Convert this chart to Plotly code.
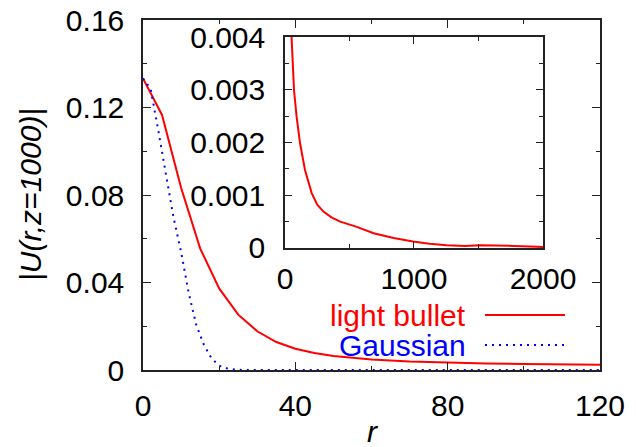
import plotly.graph_objects as go

# main panel data
r_bullet = [0, 5, 10, 15, 20, 25, 30, 35, 40, 45, 50, 60, 70, 80, 90, 100, 110, 120]
u_bullet = [0.1333, 0.1166, 0.0833, 0.0556, 0.0373, 0.0253, 0.0177, 0.0128, 0.0097,
            0.0078, 0.0064, 0.0048, 0.0039, 0.0033, 0.0030, 0.0028, 0.0026, 0.0024]

r_gauss = [0, 2, 4, 6, 8, 10, 12, 14, 16, 18, 20, 22, 24, 26, 40, 60, 80, 100, 120]
u_gauss = [0.1333, 0.1285, 0.1097, 0.0890, 0.0698, 0.0540, 0.0352, 0.0205, 0.0115,
           0.0053, 0.0020, 0.0008, 0.0002, 0.0, 0.0, 0.0, 0.0, 0.0, 0.0]

# inset data
r_inset = [40, 51, 70, 90, 117, 155, 207, 250, 298, 360, 428, 557, 687, 842, 992,
           1120, 1252, 1400, 1511, 1650, 1770, 1900, 2000]
u_inset = [0.0060, 0.0040, 0.00299, 0.00249, 0.00198, 0.00148, 0.00104, 0.00082, 0.00069,
           0.00058, 0.00050, 0.00040, 0.00028, 0.00019, 0.000125, 0.00008, 0.00005,
           0.00004, 0.00005, 0.00005, 0.00004, 0.00003, 0.00002]

main_x_ticks = [0, 40, 80, 120]
main_y_ticks = [0, 0.04, 0.08, 0.12, 0.16]
inset_x_ticks = [0, 1000, 2000]
inset_y_ticks = [0, 0.001, 0.002, 0.003, 0.004]

FONT = "Liberation Sans, Arial, sans-serif"
FS = 30
AX = "#222222"

fig = go.Figure()
fig.add_trace(go.Scatter(x=r_bullet, y=u_bullet, mode="lines",
                         line=dict(color="#ff0000", width=2), showlegend=False,
                         xaxis="x", yaxis="y"))
fig.add_trace(go.Scatter(x=r_gauss, y=u_gauss, mode="lines",
                         line=dict(color="#0000ff", width=2, dash="2px,5px"), showlegend=False,
                         xaxis="x", yaxis="y"))
fig.add_trace(go.Scatter(x=r_inset, y=u_inset, mode="lines",
                         line=dict(color="#ff0000", width=2), showlegend=False,
                         xaxis="x2", yaxis="y2", cliponaxis=True))

common = dict(showline=True, linecolor=AX, linewidth=1.5, mirror="ticks", automargin=False,
              ticks="inside", tickcolor=AX, tickwidth=1.2, showgrid=False, zeroline=False,
              ticklabeloverflow="allow",
              tickfont=dict(family=FONT, size=FS, color="black"))

fig.update_layout(
    width=636, height=447,
    margin=dict(l=143, r=36, t=20, b=77),
    paper_bgcolor="white", plot_bgcolor="white",
    font=dict(family=FONT, size=FS, color="black"),
    xaxis=dict(domain=[0, 1], range=[0, 120], tickvals=main_x_ticks, ticklen=8,
               ticklabelstandoff=8,
               minor=dict(ticks="inside", dtick=20, tick0=0, ticklen=4, tickcolor=AX),
               **common),
    yaxis=dict(domain=[0, 1], range=[0, 0.16], tickvals=main_y_ticks,
               ticktext=["0", "0.04", "0.08", "0.12", "0.16"], ticklen=8,
               ticklabelstandoff=11,
               minor=dict(ticks="inside", dtick=0.02, tick0=0, ticklen=4, tickcolor=AX),
               **common),
    xaxis2=dict(domain=[0.3107, 0.8753], range=[0, 2000], tickvals=inset_x_ticks,
                ticktext=["0", "1000", "2000"], ticklen=7, anchor="y2",
                ticklabelstandoff=3,
                minor=dict(ticks="inside", dtick=500, tick0=0, ticklen=4, tickcolor=AX),
                **common),
    yaxis2=dict(domain=[0.3486, 0.9514], range=[0, 0.004], tickvals=inset_y_ticks,
                ticktext=["0", "0.001", "0.002", "0.003", "0.004"], ticklen=7, anchor="x2",
                ticklabelstandoff=12,
                minor=dict(ticks="inside", dtick=0.0005, tick0=0, ticklen=4, tickcolor=AX),
                **common),
)

def px_to_paper_x(px):
    return (px - 143) / 457.0

def py_to_paper_y(py):
    return (370 - py) / 350.0

# axis titles
fig.add_annotation(text="<i>|U(r,z=1000)|</i>", xref="paper", yref="paper",
                   x=px_to_paper_x(30), y=py_to_paper_y(195), textangle=-90,
                   xanchor="center", yanchor="middle", showarrow=False,
                   font=dict(family=FONT, size=FS, color="black"))
fig.add_annotation(text="<i>r</i>", xref="paper", yref="paper",
                   x=px_to_paper_x(372), y=py_to_paper_y(431),
                   xanchor="center", yanchor="middle", showarrow=False,
                   font=dict(family=FONT, size=FS, color="black"))

# key (text to the left of sample lines, as in the reference)
key = [("light bullet", "#ff0000", None, 315), ("Gaussian", "#0000ff", "2px,5px", 345)]
for label, color, dash, py in key:
    fig.add_annotation(text=label, xref="paper", yref="paper",
                       x=px_to_paper_x(468), y=py_to_paper_y(py),
                       xanchor="right", yanchor="middle", showarrow=False,
                       font=dict(family=FONT, size=FS, color=color))
    fig.add_shape(type="line", xref="paper", yref="paper",
                  x0=px_to_paper_x(485), x1=px_to_paper_x(565),
                  y0=py_to_paper_y(py), y1=py_to_paper_y(py),
                  line=dict(color=color, width=2, dash=dash or "solid"))

# remove the browser's default 8px body margin so the figure fills the window
fig.write_html("out.html", config={"displayModeBar": False},
               post_script="document.body.style.margin='0';document.body.style.overflow='hidden';")
